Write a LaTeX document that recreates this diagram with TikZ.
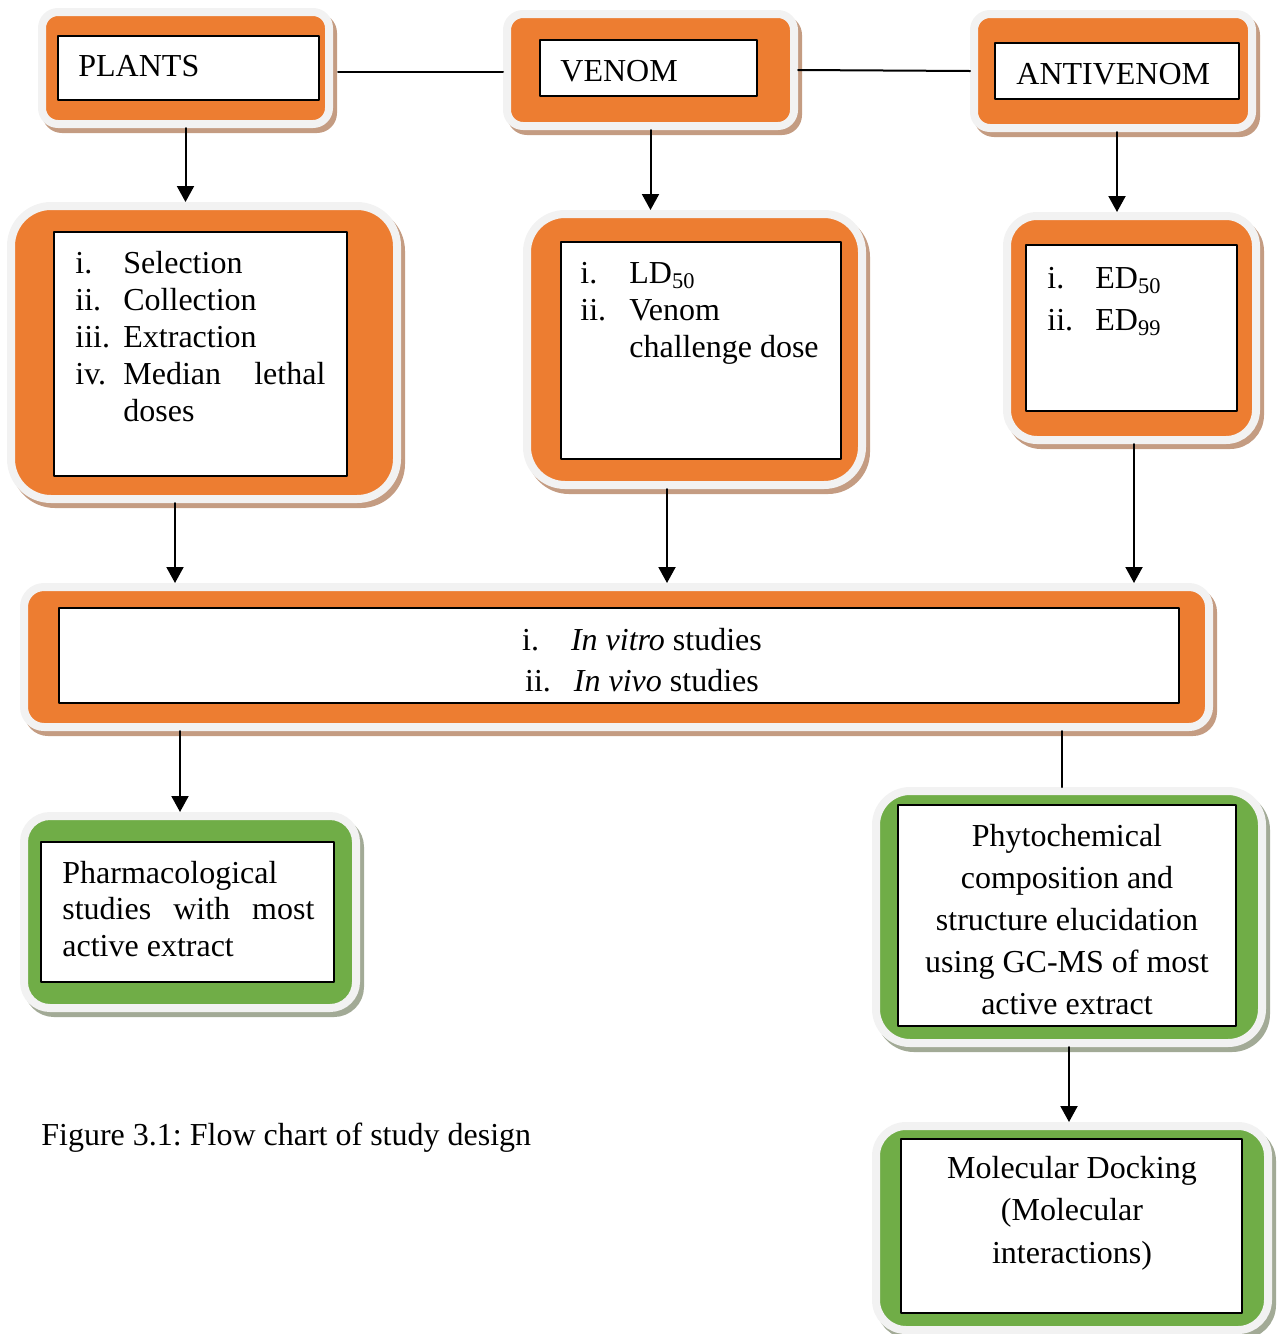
\documentclass[tikz,border=0pt]{standalone}
\usepackage{fontspec}
\setmainfont{Liberation Serif}
\usetikzlibrary{arrows.meta}
\definecolor{boxorange}{HTML}{ED7D31}
\definecolor{boxgreen}{HTML}{70AD47}
\definecolor{framegray}{HTML}{F2F2F2}
\definecolor{orshadow}{HTML}{C49C82}
\definecolor{grshadow}{HTML}{A2AA96}
\frenchspacing

\begin{document}
\begin{tikzpicture}[line cap=round,line join=round,>={Triangle[width=8.5pt,length=8pt]},x=0.5pt,y=-0.5pt,
  orbox/.style={rectangle,rounded corners=#1,inner sep=0pt,line width=4pt,draw=framegray,fill=boxorange,
    preaction={draw=orshadow,fill=orshadow,transform canvas={xshift=2pt,yshift=-2.5pt}}},
  grbox/.style={rectangle,rounded corners=#1,inner sep=0pt,line width=4pt,draw=framegray,fill=boxgreen,
    preaction={draw=grshadow,fill=grshadow,transform canvas={xshift=2pt,yshift=-2.5pt}}},
  whitebox/.style={rectangle,inner sep=0pt,draw=black,line width=0.9pt,fill=white},
  txt/.style={inner sep=0pt,font=\fontsize{16}{18.5}\selectfont},
  arr/.style={->,line width=1pt}]
  \useasboundingbox (0,0) rectangle (1281,1334);

  \node[orbox=8pt,minimum width=143.5pt,minimum height=56pt] (plantsF) at (185.5,68) {};
  \node[whitebox,minimum width=130.5pt,minimum height=32pt] (plants) at (188.5,68) {};
  \node[txt,anchor=base west] (plantsT) at (78,76) {PLANTS};

  \node[orbox=8pt,minimum width=143.5pt,minimum height=56pt] (venomF) at (650.5,70) {};
  \node[whitebox,minimum width=108.5pt,minimum height=28pt] (venom) at (648.5,68) {};
  \node[txt,anchor=base west] (venomT) at (560,81) {VENOM};

  \node[orbox=8pt,minimum width=139pt,minimum height=57pt] (antiF) at (1113,71) {};
  \node[whitebox,minimum width=122pt,minimum height=28pt] (anti) at (1117,71) {};
  \node[txt,anchor=base west] (antiT) at (1016,84) {ANTIVENOM};

  \node[orbox=20pt,minimum width=193pt,minimum height=146.5pt] (plants2F) at (204,352.5) {};
  \node[whitebox,minimum width=146.5pt,minimum height=122pt] (plants2) at (200.5,354) {};
  \node[txt,anchor=base west] (plants2T) at (75,273) {\begin{tabular}[t]{@{}p{24pt}@{}l@{}}
    i. & Selection\\ ii. & Collection\\ iii. & Extraction\\
    iv. & \makebox[101pt][l]{Median\hfill lethal}\\ & doses\end{tabular}};

  \node[orbox=19pt,minimum width=167.5pt,minimum height=135.5pt] (venom2F) at (694.5,349.5) {};
  \node[whitebox,minimum width=140pt,minimum height=108.5pt] (venom2) at (701,350.5) {};
  \node[txt,anchor=base west] (venom2T) at (580,283) {\begin{tabular}[t]{@{}p{24.5pt}@{}l@{}}
    i. & LD\textsubscript{50}\\ ii. & Venom\\ & challenge dose\end{tabular}};

  \node[orbox=15pt,minimum width=124.5pt,minimum height=112pt] (anti2F) at (1131.5,328) {};
  \node[whitebox,minimum width=105.5pt,minimum height=83pt] (anti2) at (1131.5,328) {};
  \node[txt,font=\fontsize{16}{21}\selectfont,anchor=base west] (anti2T) at (1047,288) {\begin{tabular}[t]{@{}p{24pt}@{}l@{}}
    i. & ED\textsubscript{50}\\ ii. & ED\textsubscript{99}\end{tabular}};

  \node[orbox=10pt,minimum width=592.5pt,minimum height=70pt] (wideF) at (616.5,657) {};
  \node[whitebox,minimum width=560pt,minimum height=47.5pt] (wide) at (619,655.5) {};
  \node[txt,font=\fontsize{16}{20.5}\selectfont,anchor=base] (wideT) at (642,650) {\begin{tabular}[t]{@{}c@{}}
    i.\hspace{16pt}\textit{In vitro} studies\\ ii.\hspace{11.5pt}\textit{In vivo} studies\end{tabular}};

  \node[grbox=13pt,minimum width=166pt,minimum height=96pt] (pharmF) at (190,912) {};
  \node[whitebox,minimum width=146.5pt,minimum height=70pt] (pharm) at (187.5,912) {};
  \node[txt,font=\fontsize{16}{18.25}\selectfont,anchor=base west] (pharmT) at (62,883) {\begin{tabular}[t]{@{}p{126pt}@{}}
    Pharmacological studies with most active extract\end{tabular}};

  \node[grbox=17pt,minimum width=193pt,minimum height=126pt] (phytoF) at (1069,917) {};
  \node[whitebox,minimum width=169pt,minimum height=110.5pt] (phyto) at (1067,915.5) {};
  \node[txt,font=\fontsize{16}{21}\selectfont,anchor=base] (phytoT) at (1067,846) {\begin{tabular}[t]{@{}c@{}}
    Phytochemical\\ composition and\\ structure elucidation\\ using GC-MS of most\\ active extract\end{tabular}};

  \node[grbox=15pt,minimum width=196pt,minimum height=102pt] (molF) at (1072,1228) {};
  \node[whitebox,minimum width=170.5pt,minimum height=87pt] (mol) at (1071.5,1226) {};
  \node[txt,font=\fontsize{16}{21.25}\selectfont,anchor=base] (molT) at (1072,1178) {\begin{tabular}[t]{@{}c@{}}
    Molecular Docking\\ (Molecular\\ interactions)\end{tabular}};

  \node[txt,anchor=base west] (caption) at (41,1145) {Figure 3.1: Flow chart of study design};

  \draw[line width=1pt] ([xshift=2.5pt,yshift=-2pt]plantsF.east) -- ([yshift=-1pt]venomF.west);
  \draw[line width=1pt] (venomF.east) -- (antiF.west);
  \draw[arr] (plantsF.south) -- (plantsF.south |- plants2F.north);
  \draw[arr] (venomF.south) -- (venomF.south |- venom2F.north);
  \draw[arr] ([xshift=2pt]antiF.south) -- ([xshift=2pt]antiF.south |- anti2F.north);
  \draw[arr] ([xshift=-14.5pt]plants2F.south) -- ([xshift=-14.5pt]plants2F.south |- wideF.north);
  \draw[arr] ([xshift=-13.75pt]venom2F.south) -- ([xshift=-13.75pt]venom2F.south |- wideF.north);
  \draw[arr] ([xshift=1.25pt]anti2F.south) -- ([xshift=1.25pt]anti2F.south |- wideF.north);
  \draw[arr] ([xshift=-5pt]pharmF.north |- wideF.south) -- ([xshift=-5pt]pharmF.north);
  \draw[line width=1pt] ([xshift=-3.5pt]phytoF.north |- wideF.south) -- ([xshift=-3.5pt]phytoF.north);
  \draw[arr] (phytoF.south) -- (phytoF.south |- molF.north);
\end{tikzpicture}
\end{document}
